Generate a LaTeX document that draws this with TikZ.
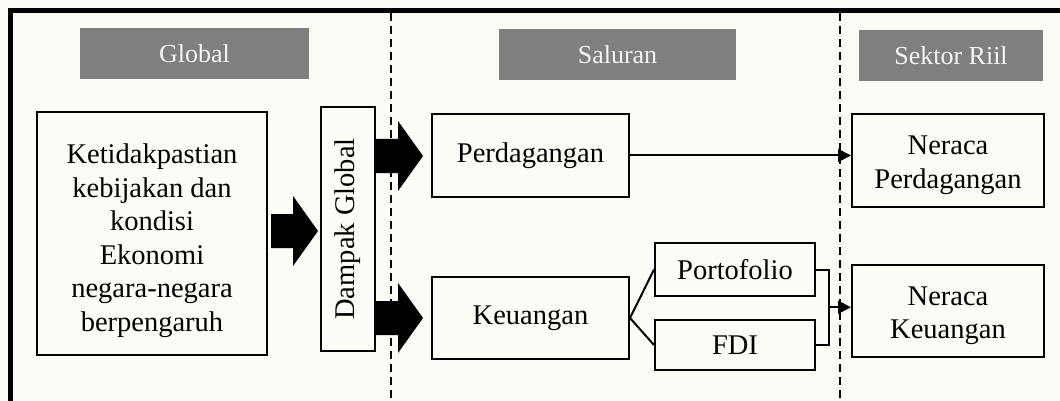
\documentclass[tikz,border=0pt]{standalone}
\usepackage{fontspec}
\setmainfont{Liberation Serif}
\usetikzlibrary{arrows.meta,calc}
\definecolor{bgc}{RGB}{252,252,246}
\definecolor{hdr}{RGB}{127,127,127}
\definecolor{hdrtxt}{RGB}{245,245,245}
\tikzset{
  box/.style={draw=black, line width=2pt, fill=bgc, inner sep=0pt, align=center,
    font=\fontsize{28.5}{33.5}\selectfont},
  header/.style={fill=hdr, text=hdrtxt, inner sep=0pt, font=\fontsize{26}{30}\selectfont},
  conn/.style={line width=2pt},
  tip/.style={-{Triangle[length=13pt,width=13pt]}},
  divider/.style={line width=2pt, dash pattern=on 8pt off 5pt},
  frame/.style={line width=5pt}
}
\newcommand{\blockarr}[2]{%
  \fill[black] (#1,#2-17) -- (#1+22,#2-17) -- (#1+22,#2-35) -- (#1+47,#2)
    -- (#1+22,#2+35) -- (#1+22,#2+17) -- (#1,#2+17) -- cycle;}
\begin{document}
\begin{tikzpicture}[x=1pt,y=-1pt]
\useasboundingbox (0,0) rectangle (1060,401);
\fill[bgc] (0,0) rectangle (1060,401);
% frame (top and left edges visible)
\draw[frame] (10,401) -- (10,11) -- (1060,11);
% dividers
\draw[divider] (391,13) -- (391,401);
\draw[divider] (840,13) -- (840,401);
% headers
\node[header, minimum width=229pt, minimum height=51pt] (hglobal) at (194.5,53.5) {Global};
\node[header, minimum width=237pt, minimum height=51pt] (hsaluran) at (617.5,54.5) {Saluran};
\node[header, minimum width=184pt, minimum height=51pt] (hsektor) at (951,55.5) {Sektor Riil};
% boxes
\node[box, minimum width=230pt, minimum height=243pt] (ket) at (152,233.5)
  {\rule{0pt}{34pt}Ketidakpastian\\kebijakan dan\\kondisi\\Ekonomi\\negara-negara\\berpengaruh};
\node[box, rotate=90, minimum width=244pt, minimum height=54pt] (dampak) at (348,229) {Dampak Global};
\node[box, minimum width=197pt, minimum height=83pt] (perd) at (530.5,155.5) {Perdagangan};
\node[box, minimum width=197pt, minimum height=82pt] (keu) at (530.5,318) {Keuangan};
\node[box, minimum width=160pt, minimum height=53pt] (port) at (735,269.5) {Portofolio};
\node[box, minimum width=160pt, minimum height=50pt] (fdi) at (735,345) {FDI};
\node[box, minimum width=192pt, minimum height=93pt] (np) at (948,160.5) {\rule{0pt}{28pt}Neraca\\Perdagangan};
\node[box, minimum width=192pt, minimum height=92pt] (nk) at (948,311) {\rule{0pt}{28pt}Neraca\\Keuangan};
% block arrows
\blockarr{271}{231}
\blockarr{376}{156}
\blockarr{376}{318}
% connectors
\draw[conn, tip] (perd.east) -- (perd.east -| np.west);
\draw[conn] (keu.east) -- (port.west);
\draw[conn] (keu.east) -- (fdi.west);
\coordinate (br) at ($(port.east)!0.5!(fdi.east) + (13,0)$);
\draw[conn] (port.east) -- ++(13,0) |- (fdi.east);
\draw[conn, tip] (br) -- (br -| nk.west);
\end{tikzpicture}
\end{document}
